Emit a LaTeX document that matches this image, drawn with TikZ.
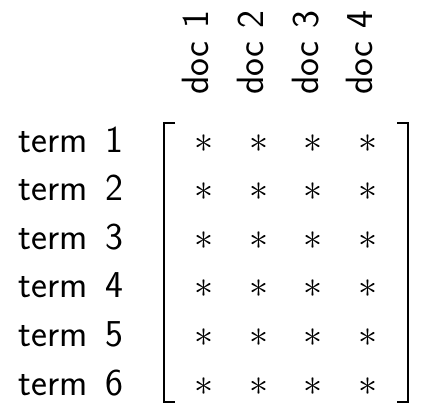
\documentclass[tikz,border=0pt]{standalone}
\begin{document}
\begin{tikzpicture}[x=1pt,y=-1pt,
  lbl/.style={inner sep=0pt,font=\fontsize{38}{40}\selectfont\sffamily},
  cell/.style={inner sep=0pt,anchor=base},
  brk/.style={line width=1.8pt,line cap=butt,line join=miter}]
\useasboundingbox (0,0) rectangle (426,420);
% row labels
\foreach \i in {1,...,6}{
  \node[lbl,anchor=base west] (t\i) at (18,{152+48.6*(\i-1)}) {term\ \hspace{6pt}\i};
}
% column labels
\foreach \j in {1,...,4}{
  \node[lbl,anchor=base west,rotate=90] (d\j) at ({208.7+54.7*(\j-1)},95) {doc\ \hspace{1.5pt}\j};
}
% entries
\foreach \i in {1,...,6}{
  \foreach \j in {1,...,4}{
    \node[cell] (a\i\j) at ({204+54.7*(\j-1)},{152+48.6*(\i-1)}) {\scalebox{3.8}{$\ast$}};
  }
}
% brackets
\draw[brk] (175,123) -- (164,123) -- (164,402) -- (175,402);
\draw[brk] (397,123) -- (408,123) -- (408,402) -- (397,402);
\end{tikzpicture}
\end{document}
